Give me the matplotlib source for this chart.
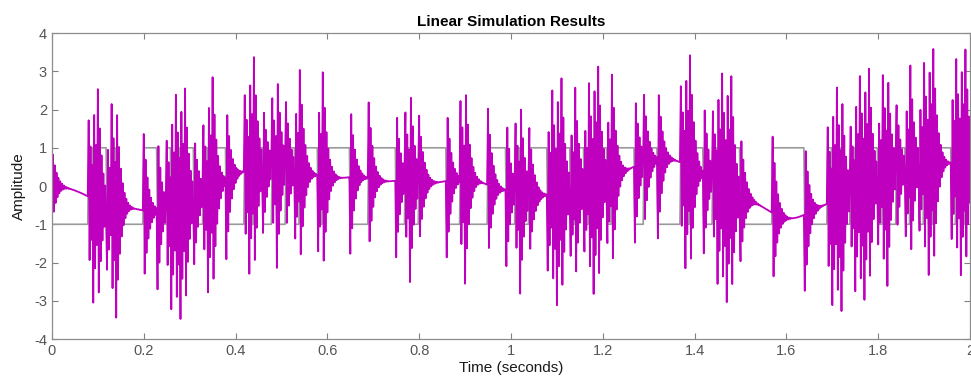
import numpy as np
import matplotlib
matplotlib.use("Agg")
import matplotlib.pyplot as plt

# input: binary sequence, one level per 10 ms slot ('+' = +1, '-' = -1)
slot = 0.01
input_bits = (
    "--------+-++-+------+++--+-+-++--+-+++----+-++--+-"       # 0.00 - 0.50
    "-++-++++-++++++----++++++--+--++++++---+-----++++-"       # 0.50 - 1.00
    "-+--++++-+-++-++-+-++-+++++--+++-----+-+++--+-+-++"       # 1.00 - 1.50
    "-------+++++++-----+-+--+-+-++-+--++-++-+-++++-+-+"       # 1.50 - 2.00
)
t_end = 2.0
dt = 0.002

# plant: lightly damped slow mode plus a high-pass resonance close to Nyquist
slow_wn = 11.0
slow_zeta = 0.05
slow_gain = 0.8
fast_freq = 245.0
fast_zeta = 0.065


def expm(M):
    """Matrix exponential by scaling and squaring (no scipy here)."""
    nrm = np.linalg.norm(M, 1)
    s = max(0, int(np.ceil(np.log2(nrm))) + 1) if nrm > 0 else 0
    A = M / 2.0 ** s
    E = np.eye(len(A))
    term = np.eye(len(A))
    for k in range(1, 25):
        term = term @ A / k
        E = E + term
    for _ in range(s):
        E = E @ E
    return E


def lsim(A, B, C, D, u, dt):
    """Zero-order-hold simulation, like MATLAB's lsim."""
    n = A.shape[0]
    M = np.zeros((n + 1, n + 1))
    M[:n, :n] = A
    M[:n, n] = B
    E = expm(M * dt)
    Ad, Bd = E[:n, :n], E[:n, n]
    x = np.zeros(n)
    y = np.empty(len(u))
    for k, uk in enumerate(u):
        y[k] = C @ x + D * uk
        x = Ad @ x + Bd * uk
    return y


t = np.round(np.arange(0, t_end + dt / 2, dt), 6)
slot_idx = np.minimum((t / slot + 1e-6).astype(int), len(input_bits) - 1)
u = np.array([1.0 if input_bits[i] == '+' else -1.0 for i in slot_idx])

wf = 2 * np.pi * fast_freq
a = 2 * fast_zeta * wf
A = np.array([
    [0.0, 1.0, 0.0, 0.0],
    [-slow_wn ** 2, -2 * slow_zeta * slow_wn, 0.0, 0.0],
    [0.0, 0.0, 0.0, wf],
    [0.0, 0.0, -wf, -a],
])
B = np.array([0.0, slow_gain * slow_wn ** 2, 0.0, wf])
C = np.array([1.0, 0.0, -1.0, -a / wf])
D = 1.0
y = lsim(A, B, C, D, u, dt)

plt.rcParams['font.family'] = ['Liberation Sans', 'DejaVu Sans']
plt.rcParams['axes.unicode_minus'] = False
fig = plt.figure(figsize=(9.71, 3.89), dpi=100)
ax = fig.add_axes([0.0535, 0.1285, 0.9455, 0.7865])

ax.plot(t, u, color='#999999', linewidth=1.2)
ax.plot(t, y, color='#bf00bf', linewidth=1.3)

ax.set_xlim(0, 2)
ax.set_ylim(-4, 4)
ax.set_xticks(np.arange(0, 2.01, 0.2))
ax.set_xticklabels(['0', '0.2', '0.4', '0.6', '0.8', '1', '1.2', '1.4', '1.6', '1.8', '2'])
ax.set_yticks(np.arange(-4, 5, 1))
ax.tick_params(direction='in', length=4, top=True, right=True, colors='#808080',
               labelcolor='#555555', labelsize=10.5)
for sp in ax.spines.values():
    sp.set_color('#8c8c8c')
    sp.set_linewidth(0.9)

ax.set_title('Linear Simulation Results', fontsize=11, fontweight='bold', pad=5)
ax.set_xlabel('Time (seconds)', fontsize=11, color='#1a1a1a', labelpad=2)
ax.set_ylabel('Amplitude', fontsize=11, color='#1a1a1a', labelpad=6)

fig.savefig('out.png', dpi=100)
